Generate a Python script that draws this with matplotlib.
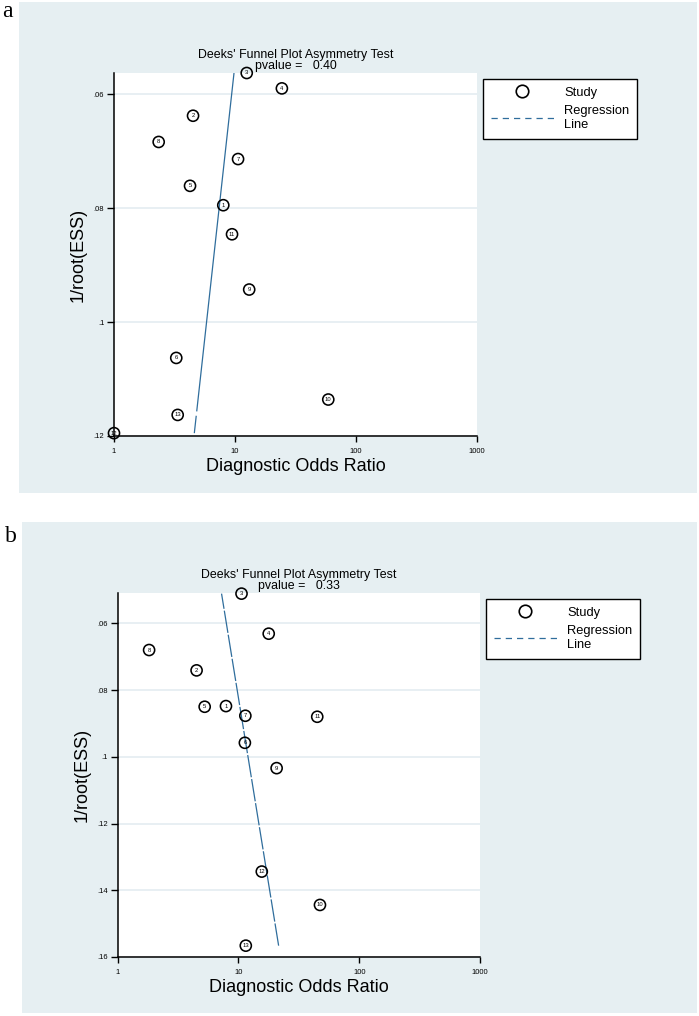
import numpy as np
import matplotlib
matplotlib.use("Agg")
import matplotlib.pyplot as plt
from matplotlib.patches import Rectangle
from matplotlib.lines import Line2D

plt.rcParams['font.family'] = ['Liberation Sans', 'DejaVu Sans']

# panel a: Deeks' funnel plot (diagnostic odds ratio vs 1/sqrt(ESS))
study_a = [1, 2, 3, 4, 5, 6, 7, 8, 9, 10, 11, 12, 13]
dor_a = [8.0, 4.5, 12.5, 24.4, 4.25, 3.27, 10.6, 2.34, 13.1, 59.0, 9.45, 1.0, 3.36]
ess_a = [0.0795, 0.0638, 0.0563, 0.0590, 0.0761, 0.1063, 0.0714, 0.0684, 0.0943,
         0.1136, 0.0846, 0.1195, 0.1163]
reg_a = (1.284, -5.19)   # log10(DOR) = b0 + b1 * 1/root(ESS)
pval_a = "0.40"
yticks_a = [0.06, 0.08, 0.10, 0.12]
ylabels_a = ['.06', '.08', '.1', '.12']

# panel b
study_b = [1, 2, 3, 4, 5, 6, 7, 8, 9, 10, 11, 12, 13]
dor_b = [7.88, 4.5, 10.6, 17.8, 5.25, 11.3, 11.4, 1.82, 20.7, 47.3, 44.9, 15.6, 11.5]
ess_b = [0.0848, 0.0741, 0.0511, 0.0631, 0.0850, 0.0958, 0.0877, 0.0680, 0.1034,
         0.1444, 0.0880, 0.1344, 0.1566]
reg_b = (0.631, 4.48)
pval_b = "0.33"
yticks_b = [0.06, 0.08, 0.10, 0.12, 0.14, 0.16]
ylabels_b = ['.06', '.08', '.1', '.12', '.14', '.16']

xticks = [1, 10, 100, 1000]
xlabels = ['1', '10', '100', '1000']

W, H = 699, 1016
BG = '#e6eff2'
GRID = '#e6eef2'
LINE = '#2f6d9c'

fig = plt.figure(figsize=(W / 100, H / 100), dpi=100)
fig.patch.set_facecolor('white')


def frac(x0, y0, x1, y1):
    # pixel box -> figure fraction [left, bottom, width, height]
    return [x0 / W, 1 - y1 / H, (x1 - x0) / W, (y1 - y0) / H]


def draw_panel(bg_box, ax_box, leg_xy, letter, letter_xy,
               studies, dor, ess, reg, pval, yticks, ylabels, ylim, dashes):
    l, b, w, h = frac(*bg_box)
    fig.patches.append(Rectangle((l, b), w, h, transform=fig.transFigure,
                                 facecolor=BG, edgecolor='none', zorder=-5))
    fig.text(letter_xy[0] / W, 1 - letter_xy[1] / H, letter, family='Liberation Serif',
             fontsize=17, va='baseline', ha='left')

    ax = fig.add_axes(frac(*ax_box))
    ax.set_facecolor('white')
    ax.set_xscale('log')
    ax.set_xlim(1, 1000)
    ax.set_ylim(*ylim)

    for yv in yticks:
        ax.axhline(yv, color=GRID, lw=1.3, zorder=1)

    ax.scatter(dor, ess, s=64, facecolor='none', edgecolor='black',
               linewidth=1.15, zorder=3, clip_on=False)
    for sid, xv, yv in zip(studies, dor, ess):
        ax.text(xv, yv, str(sid), fontsize=4.2, ha='center', va='center', zorder=4,
                clip_on=False)

    # regression line over the range of 1/root(ESS)
    b0, b1 = reg
    yy = np.array([max(ess), min(ess)])
    xx = 10 ** (b0 + b1 * yy)
    ax.plot(xx, yy, color=LINE, lw=0.9, dashes=dashes, zorder=2)

    ax.spines['top'].set_visible(False)
    ax.spines['right'].set_visible(False)
    for s in ('left', 'bottom'):
        ax.spines[s].set_linewidth(1.1)
    ax.set_xticks(xticks)
    ax.set_xticklabels(xlabels)
    ax.xaxis.set_minor_locator(matplotlib.ticker.NullLocator())
    ax.set_yticks(yticks)
    ax.set_yticklabels(ylabels)
    ax.tick_params(axis='x', length=4, width=1.0, labelsize=5.5, pad=4.5)
    ax.tick_params(axis='y', length=5, width=1.0, labelsize=5.5, pad=2)

    ax.set_xlabel('Diagnostic Odds Ratio', fontsize=13, labelpad=2)
    ax.set_ylabel('1/root(ESS)', fontsize=13, labelpad=5)
    ax.set_title("Deeks' Funnel Plot Asymmetry Test\npvalue =   " + pval,
                 fontsize=8.9, pad=3, linespacing=0.92)

    handles = [Line2D([], [], ls='none', marker='o', ms=9, mfc='none',
                      mec='black', mew=1.2),
               Line2D([], [], color=LINE, lw=0.9, dashes=(5, 4))]
    leg = fig.legend(handles, ['Study', 'Regression\nLine'], loc='upper left',
                     bbox_to_anchor=(leg_xy[0] / W, 1 - leg_xy[1] / H),
                     fontsize=9.3, frameon=True, fancybox=False, edgecolor='black',
                     framealpha=1, handlelength=4.9, handletextpad=0.8,
                     borderpad=0.6, labelspacing=0.5, borderaxespad=0)
    leg.get_frame().set_linewidth(1.0)
    return ax


draw_panel((19, 2, 697, 493), (114, 73, 477, 436), (483, 79), 'a', (2, 17),
           study_a, dor_a, ess_a, reg_a, pval_a, yticks_a, ylabels_a,
           (0.12, 0.0563), (14, 3.5, 400, 3))
draw_panel((22, 522, 697, 1013), (117.7, 593.3, 480, 957), (486, 599), 'b', (5, 542),
           study_b, dor_b, ess_b, reg_b, pval_b, yticks_b, ylabels_b,
           (0.16, 0.051), (18, 1.5))

fig.savefig('out.png', dpi=100)
